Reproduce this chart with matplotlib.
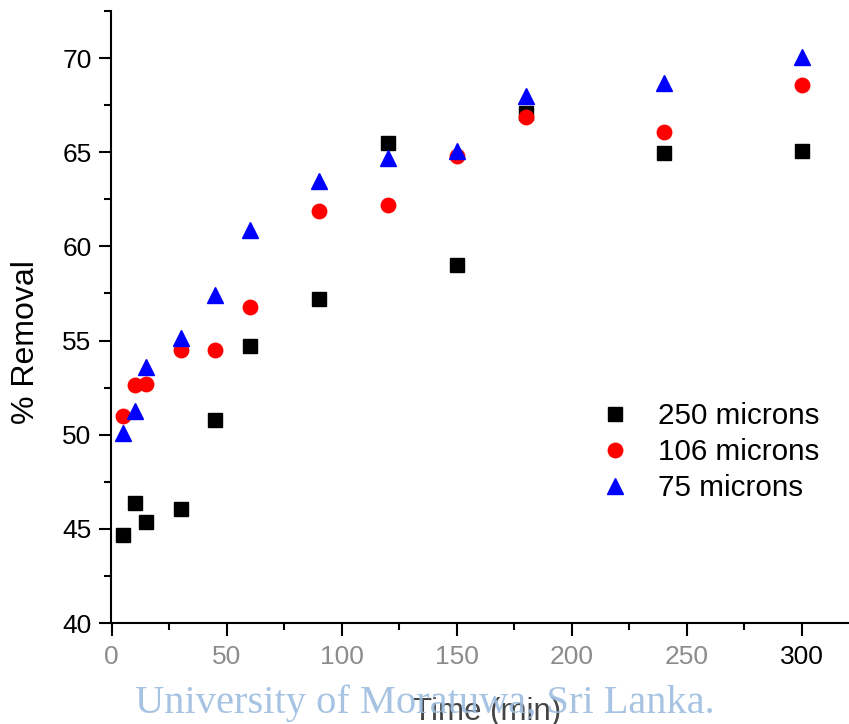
import matplotlib
matplotlib.use("Agg")
import matplotlib.pyplot as plt
from matplotlib.ticker import MultipleLocator

plt.rcParams['font.family'] = ['Liberation Sans', 'DejaVu Sans']

time_min = [5, 10, 15, 30, 45, 60, 90, 120, 150, 180, 240, 300]
removal_250 = [44.68, 46.38, 45.35, 46.06, 50.76, 54.70, 57.23, 65.50, 58.99, 67.10, 64.95, 65.08]
removal_106 = [50.97, 52.66, 52.68, 54.52, 54.48, 56.80, 61.86, 62.18, 64.78, 66.86, 66.06, 68.56]
removal_75 = [50.10, 51.24, 53.58, 55.16, 57.40, 60.85, 63.46, 64.70, 65.05, 67.98, 68.67, 70.05]
labels = ["250 microns", "106 microns", "75 microns"]

W, H = 849, 724
fig = plt.figure(figsize=(W / 100, H / 100), dpi=100)
ax = fig.add_axes([111 / W, 1 - 623 / H, 1 - 111 / W, (623 - 11) / H])

ax.plot(time_min, removal_250, linestyle='none', marker='s', color='black', markersize=9.9, label=labels[0], zorder=3)
ax.plot(time_min, removal_106, linestyle='none', marker='o', color='#ff0000', markersize=10.4, label=labels[1], zorder=4)
ax.plot(time_min, removal_75, linestyle='none', marker='^', color='#0000ff', markersize=11.8, label=labels[2], zorder=5)

ax.set_xlim(-0.3, 320.6)
ax.set_ylim(40, 72.5)
ax.xaxis.set_major_locator(MultipleLocator(50))
ax.xaxis.set_minor_locator(MultipleLocator(25))
ax.yaxis.set_major_locator(MultipleLocator(5))
ax.yaxis.set_minor_locator(MultipleLocator(2.5))

for s in ['top', 'right']:
    ax.spines[s].set_visible(False)
for s in ['left', 'bottom']:
    ax.spines[s].set_linewidth(1.5)

ax.tick_params(axis='both', which='major', direction='out', length=9, width=1.5, labelsize=19)
ax.tick_params(axis='both', which='minor', direction='out', length=5, width=1.5)
ax.tick_params(axis='x', which='major', pad=6.5)
ax.tick_params(axis='y', which='major', pad=5)

fig.canvas.draw()
for lbl in ax.get_xticklabels():
    if lbl.get_text() == '300':
        lbl.set_color('black')
    else:
        lbl.set_color('#8c8c8c')

ax.set_ylabel("% Removal", fontsize=23)
ax.yaxis.label.set_va('center')
ax.yaxis.set_label_coords(-0.1145, 0.459)
ax.set_xlabel("Time (min)", fontsize=22.5, color='#444444')
ax.xaxis.set_label_coords(0.5095, -0.158)
ax.xaxis.label.set_va('baseline')

fs = 21.3
leg = ax.legend(loc='upper left', bbox_to_anchor=(594 / W, 1 - 396 / H),
                bbox_transform=fig.transFigure, frameon=False,
                fontsize=fs, handlelength=1.0, handletextpad=0.95, labelspacing=0.27,
                borderpad=0.2, borderaxespad=0)

fig.text(135 / W, 1 - 713 / H, "University of Moratuwa, Sri Lanka.",
         fontsize=29.2, family='Liberation Serif', color='#9dbde0', alpha=0.9,
         ha='left', va='baseline', zorder=10)

fig.savefig("out.png", dpi=100)
